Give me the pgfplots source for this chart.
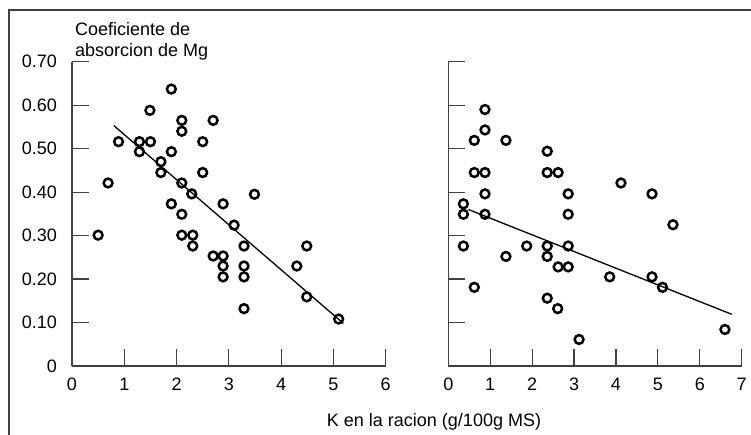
\documentclass[border=0pt]{standalone}
\usepackage{fontspec}
\setmainfont{Liberation Sans}
\usepackage{pgfplots}
\pgfplotsset{compat=1.18}
\pgfplotsset{myax/.style={
  scale only axis, anchor=south west, clip=false,
  height=304.3bp, ymin=0, ymax=0.7,
  axis x line*=bottom, axis y line*=left,
  tick align=inside, major tick length=17bp,
  axis line style={black!75, line width=1.2bp},
  major tick style={black!75, line width=1.2bp},
  ytick={0,0.1,0.2,0.3,0.4,0.5,0.6,0.7},
  /pgf/number format/assume math mode=true,
  tick label style={font=\fontsize{18bp}{21bp}\selectfont},
  xticklabel style={yshift=-6bp},
  yticklabel style={xshift=-9bp},
}}
\begin{document}
\fontsize{18bp}{21bp}\selectfont
\begin{tikzpicture}[x=1bp,y=1bp]
\path[use as bounding box] (0,0) rectangle (751,435);
\draw[black!75, line width=1.2bp] (9,0) -- (9,425) -- (751,425);
\node[anchor=base west, inner sep=0pt] at (75,399) {Coeficiente de};
\node[anchor=base west, inner sep=0pt] at (75,378) {absorcion de Mg};
\node[anchor=base, inner sep=0pt] at (434,8) {K en la racion (g/100g MS)};

\begin{axis}[myax, at={(72bp,69bp)}, width=313.7bp, xmin=0, xmax=6,
  xtick={0,1,2,3,4,5,6},
  yticklabels={0,0.10,0.20,0.30,0.40,0.50,0.60,0.70}]
\addplot[only marks, mark=o, mark size=4.4bp, mark options={black, line width=2.5bp}] table {
x y
1.90 0.637
1.49 0.588
2.10 0.565
2.70 0.565
2.10 0.540
0.89 0.516
1.29 0.516
1.50 0.516
2.50 0.516
1.29 0.493
1.90 0.493
1.70 0.470
1.70 0.445
2.50 0.445
0.69 0.421
2.10 0.421
2.29 0.396
1.90 0.373
2.89 0.373
2.10 0.349
3.49 0.395
3.10 0.324
0.50 0.301
2.10 0.301
2.31 0.301
2.31 0.276
3.29 0.276
4.49 0.276
2.70 0.253
2.89 0.253
2.89 0.230
3.29 0.230
4.30 0.230
2.89 0.205
3.29 0.205
4.49 0.159
3.29 0.132
5.10 0.108
};
\addplot[black, line width=1.3bp] coordinates {(0.80,0.553) (5.19,0.098)};
\end{axis}

\begin{axis}[myax, at={(448.3bp,69bp)}, width=293.4bp, xmin=0, xmax=7,
  xtick={0,1,2,3,4,5,6,7},
  yticklabels={}]
\addplot[only marks, mark=o, mark size=4.4bp, mark options={black, line width=2.5bp}] table {
x y
0.875 0.590
0.875 0.543
0.62 0.519
1.375 0.519
2.36 0.494
0.62 0.445
0.875 0.445
2.36 0.445
2.62 0.445
4.12 0.421
0.875 0.396
2.86 0.396
4.86 0.396
0.36 0.373
0.36 0.349
0.875 0.349
2.86 0.349
5.36 0.325
0.36 0.276
1.87 0.276
2.36 0.276
2.86 0.276
1.375 0.252
2.36 0.252
2.62 0.228
2.86 0.228
3.85 0.205
4.86 0.205
5.11 0.181
0.62 0.181
2.36 0.156
2.61 0.132
3.12 0.061
6.60 0.084
};
\addplot[black, line width=1.3bp] coordinates {(0.48,0.360) (6.76,0.119)};
\end{axis}
\end{tikzpicture}
\end{document}
